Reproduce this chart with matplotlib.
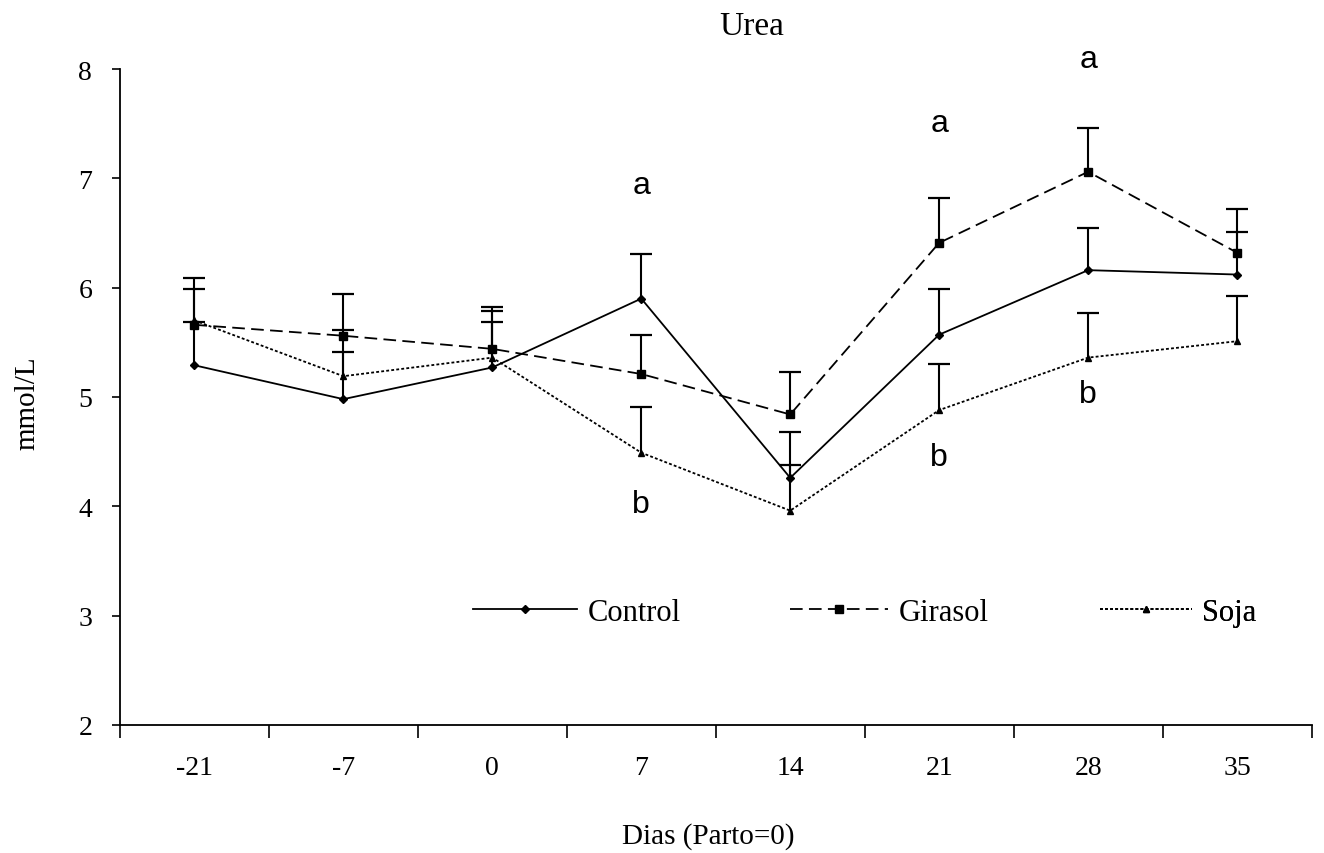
import matplotlib.pyplot as plt
from matplotlib.lines import Line2D
from matplotlib.ticker import FixedLocator, NullFormatter

days = ["-21", "-7", "0", "7", "14", "21", "28", "35"]

control = [5.29, 4.98, 5.27, 5.90, 4.26, 5.57, 6.16, 6.12]
control_se = [0.40, 0.43, 0.42, 0.41, 0.42, 0.42, 0.39, 0.39]
girasol = [5.66, 5.56, 5.44, 5.21, 4.84, 6.41, 7.06, 6.32]
girasol_se = [0.43, 0.38, 0.38, 0.36, 0.39, 0.41, 0.40, 0.40]
soja = [5.70, 5.19, 5.36, 4.49, 3.96, 4.88, 5.36, 5.51]
soja_se = [0.29, 0.42, 0.43, 0.42, 0.42, 0.42, 0.41, 0.41]

# letters of significance: day index, y position, letter
letters_idx = [3, 3, 5, 5, 6, 6]
letters_y = [6.94, 4.02, 7.51, 4.45, 8.09, 5.03]
letters = ["a", "b", "a", "b", "a", "b"]

serif = "Liberation Serif"
sans = "Liberation Sans"

fig = plt.figure(figsize=(13.24, 8.54), dpi=100)
ax = fig.add_axes([0.0906, 0.150, 0.9, 0.768])

x = list(range(len(days)))

# name, values, error, line style, marker, marker size, legend x, legend length
series = [
    ("Control", control, control_se, "-", "D", 4, 473, 3.4),
    ("Girasol", girasol, girasol_se, (0, (7, 3.5)), "s", 6, 790, 3.2),
    ("Soja", soja, soja_se, (0, (1.6, 1.2)), "^", 5, 1100, 3.0),
]
for name, vals, se, ls, mk, ms, lx, hl in series:
    tops = [v + e for v, e in zip(vals, se)]
    # only the upper half of each error bar, as in the original
    ax.vlines(x, vals, tops, color="black", linewidth=1.5)
    ax.plot(x, tops, linestyle="none", marker="_", markersize=16,
            markeredgewidth=1.6, color="black")
    ax.plot(x, vals, color="black", linestyle=ls, linewidth=1.3,
            marker=mk, markersize=ms)

    proxy = Line2D([], [], color="black", linestyle=ls, linewidth=1.3,
                   marker=mk, markersize=ms)
    lg = ax.legend([proxy], [name], loc="center left",
                   bbox_to_anchor=(lx / 1324, 0.282),
                   bbox_transform=fig.transFigure, frameon=False,
                   borderpad=0, borderaxespad=0, handlelength=hl,
                   handletextpad=0.35, numpoints=1,
                   prop={"family": serif, "size": 22})
    ax.add_artist(lg)

for i, yv, t in zip(letters_idx, letters_y, letters):
    ax.text(i, yv, t, ha="center", va="center", fontsize=23, family=sans)

ax.set_xlim(-0.5, len(days) - 0.5)
ax.set_ylim(2, 8)
ax.set_yticks(range(2, 9))
ax.set_yticklabels([str(v) for v in range(2, 9)], family=serif, fontsize=20)

# ticks sit between the categories, labels at the centres
ax.xaxis.set_major_locator(FixedLocator([i - 0.5 for i in range(len(days) + 1)]))
ax.xaxis.set_major_formatter(NullFormatter())
ax.xaxis.set_minor_locator(FixedLocator(x))
ax.set_xticklabels(days, minor=True, family=serif, fontsize=20)
ax.tick_params(axis="x", which="major", direction="out", length=9, width=1.2)
ax.tick_params(axis="x", which="minor", length=0, pad=22)
ax.tick_params(axis="y", direction="out", length=6, width=1.2, pad=14)

for s in ["top", "right"]:
    ax.spines[s].set_visible(False)
for s in ["left", "bottom"]:
    ax.spines[s].set_linewidth(1.3)

fig.text(0.021, 0.528, "mmol/L", rotation=90, ha="center", va="center",
         family=serif, fontsize=21)
fig.text(0.535, 0.021, "Dias (Parto=0)", ha="center", va="center",
         family=serif, fontsize=21)
fig.text(0.568, 0.969, "Urea", ha="center", va="center",
         family=serif, fontsize=24)

fig.savefig("out.png", dpi=100)
